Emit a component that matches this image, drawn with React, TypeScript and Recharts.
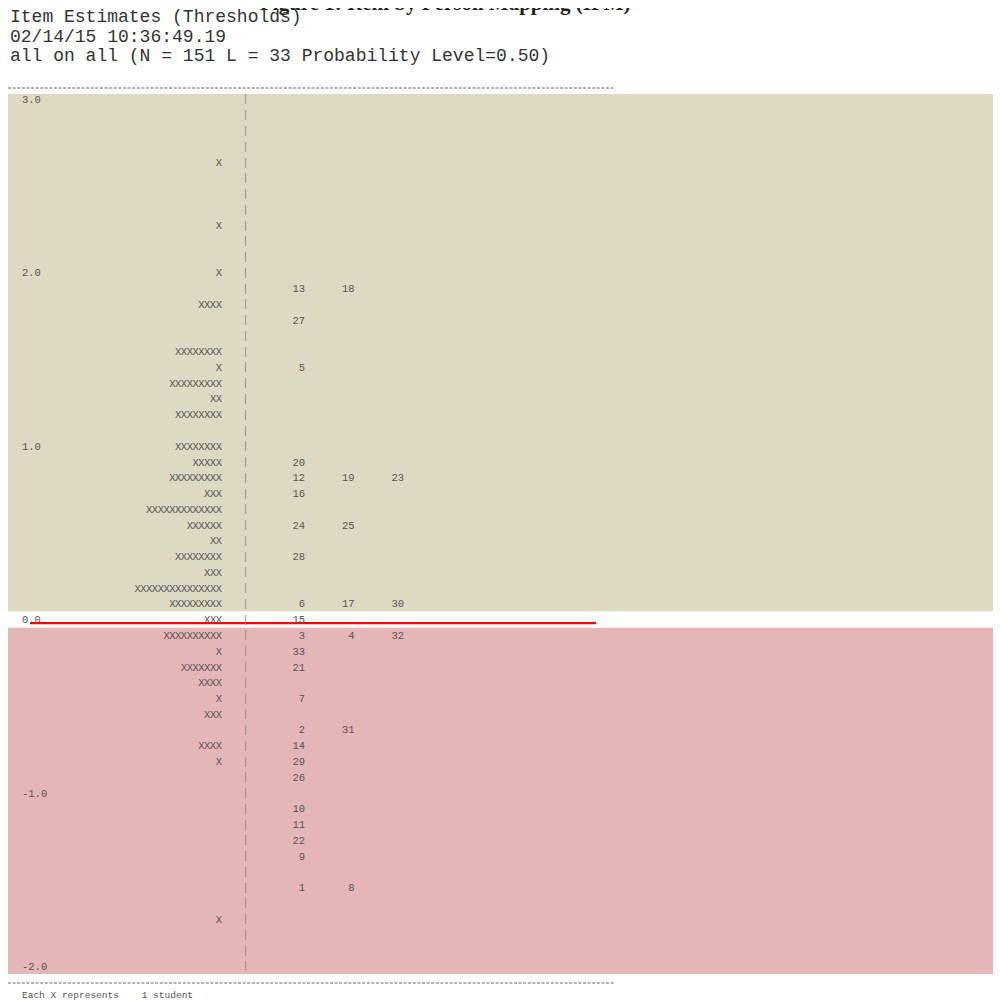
import React from "react";
import {
  ScatterChart,
  Scatter,
  XAxis,
  YAxis,
  ReferenceArea,
  ReferenceLine,
} from "recharts";

// Row logit positions (top = 3.0, bottom = -2.0)
const rowLogits: number[] = [
  3.0, 2.909, 2.818, 2.727, 2.636, 2.545, 2.455, 2.364, 2.273, 2.182, 2.091,
  2.0, 1.909, 1.818, 1.727, 1.636, 1.545, 1.455, 1.364, 1.273, 1.182, 1.091,
  1.0, 0.909, 0.818, 0.727, 0.636, 0.545, 0.455, 0.364, 0.273, 0.182, 0.091,
  0.0, -0.091, -0.182, -0.273, -0.364, -0.455, -0.545, -0.636, -0.727, -0.818, -0.909,
  -1.0, -1.091, -1.182, -1.273, -1.364, -1.455, -1.545, -1.636, -1.727, -1.818, -1.909,
  -2.0,
];

// Number of students (X) per row
const personCounts: number[] = [
  0, 0, 0, 0, 1, 0, 0, 0, 1, 0, 0,
  1, 0, 4, 0, 0, 8, 1, 9, 2, 8, 0,
  8, 5, 9, 3, 13, 6, 2, 8, 3, 15, 9,
  3, 10, 1, 7, 4, 1, 3, 0, 4, 1, 0,
  0, 0, 0, 0, 0, 0, 0, 0, 1, 0, 0,
  0,
];

// Item thresholds per row
const itemsByRow: number[][] = [
  [], [], [], [], [], [], [], [], [], [], [],
  [], [13, 18], [], [27], [], [], [5], [], [], [], [],
  [], [20], [12, 19, 23], [16], [], [24, 25], [], [28], [], [], [6, 17, 30],
  [15], [3, 4, 32], [33], [21], [], [7], [], [2, 31], [14], [29], [26],
  [], [10], [11], [22], [9], [], [1, 8], [], [], [], [],
  [],
];

const tickValues: number[] = [3, 2, 1, 0, -1, -2];

const headerLines: string[] = [
  "Item Estimates (Thresholds)",
  "02/14/15 10:36:49.19",
  "all on all (N = 151 L = 33 Probability Level=0.50)",
];
const figureTitle = "Figure 1: Item by Person Mapping (IPM)";
const footerText = "Each X represents    1 student";

const personData = rowLogits.map((logit, i) => ({
  col: 0,
  logit,
  count: personCounts[i],
}));

const itemData = rowLogits.flatMap((logit, i) =>
  itemsByRow[i].map((item, k) => ({ col: k + 1, logit, item }))
);

const tickData = tickValues.map((v) => ({ col: 0, logit: v, label: v.toFixed(1) }));

const MONO = "'Liberation Mono', 'Courier New', monospace";
const TEXT_COLOR = "#555";

const PersonShape = (props: any) => {
  const { cx, cy, payload } = props;
  return (
    <g>
      {payload.count > 0 && (
        <text
          x={cx - 24}
          y={cy}
          textAnchor="end"
          dominantBaseline="central"
          fontFamily={MONO}
          fontSize={10.5}
          letterSpacing={-0.5}
          fill={TEXT_COLOR}
        >
          {"X".repeat(payload.count)}
        </text>
      )}
      <text
        x={cx}
        y={cy}
        textAnchor="middle"
        dominantBaseline="central"
        fontFamily={MONO}
        fontSize={10}
        fill="#888"
      >
        |
      </text>
    </g>
  );
};

const ItemShape = (props: any) => {
  const { cx, cy, payload } = props;
  return (
    <text
      x={cx + 10}
      y={cy}
      textAnchor="end"
      dominantBaseline="central"
      fontFamily={MONO}
      fontSize={10.5}
      fill={TEXT_COLOR}
    >
      {String(payload.item)}
    </text>
  );
};

const TickShape = (props: any) => {
  const { cy, payload } = props;
  return (
    <text
      x={14}
      y={cy}
      textAnchor="start"
      dominantBaseline="central"
      fontFamily={MONO}
      fontSize={10.5}
      fill={TEXT_COLOR}
    >
      {payload.label}
    </text>
  );
};

export default function App() {
  return (
    <div style={{ position: "relative", width: 993, height: 999, background: "#fff" }}>
      <div
        style={{
          position: "absolute",
          left: 252,
          top: -15,
          fontFamily: "'Liberation Serif', 'Times New Roman', serif",
          fontWeight: "bold",
          fontSize: 21,
          lineHeight: "21px",
          whiteSpace: "pre",
          color: "#222",
        }}
      >
        {figureTitle}
      </div>
      {headerLines.map((line, i) => (
        <div
          key={i}
          style={{
            position: "absolute",
            left: 2,
            top: 0 + i * 19.5,
            fontFamily: MONO,
            fontSize: 18,
            lineHeight: "18px",
            whiteSpace: "pre",
            color: "#333",
          }}
        >
          {line}
        </div>
      ))}
      <svg
        width={993}
        height={999}
        style={{ position: "absolute", left: 0, top: 0, pointerEvents: "none" }}
      >
        <line x1={0} x2={607} y1={80} y2={80} stroke="#666" strokeWidth={1} strokeDasharray="3 1.6" />
        <line x1={0} x2={607} y1={975} y2={975} stroke="#666" strokeWidth={1} strokeDasharray="3 1.6" />
      </svg>
      <div style={{ position: "absolute", left: 0, top: 86 }}>
        <ScatterChart width={993} height={880} margin={{ top: 0, right: 0, bottom: 0, left: 0 }}>
          <XAxis type="number" dataKey="col" domain={[-4.798, 15.263]} hide allowDataOverflow />
          <YAxis
            type="number"
            dataKey="logit"
            domain={[-2.0404, 3.0346]}
            hide
            allowDataOverflow
          />
          <ReferenceArea y1={0.0519} y2={3.0346} fill="#DDD9C3" fillOpacity={1} stroke="none" />
          <ReferenceArea y1={-2.0404} y2={-0.0433} fill="#E4B6B6" fillOpacity={1} stroke="none" />
          <Scatter data={tickData} shape={<TickShape />} isAnimationActive={false} />
          <Scatter data={personData} shape={<PersonShape />} isAnimationActive={false} />
          <Scatter data={itemData} shape={<ItemShape />} isAnimationActive={false} />
          <ReferenceLine
            segment={[
              { x: -4.354, y: -0.017 },
              { x: 7.08, y: -0.017 },
            ]}
            stroke="#F00"
            strokeWidth={2.2}
            ifOverflow="visible"
          />
        </ScatterChart>
      </div>
      <div
        style={{
          position: "absolute",
          left: 14,
          top: 983,
          fontFamily: MONO,
          fontSize: 9.5,
          lineHeight: "10px",
          whiteSpace: "pre",
          color: TEXT_COLOR,
        }}
      >
        {footerText}
      </div>
    </div>
  );
}
